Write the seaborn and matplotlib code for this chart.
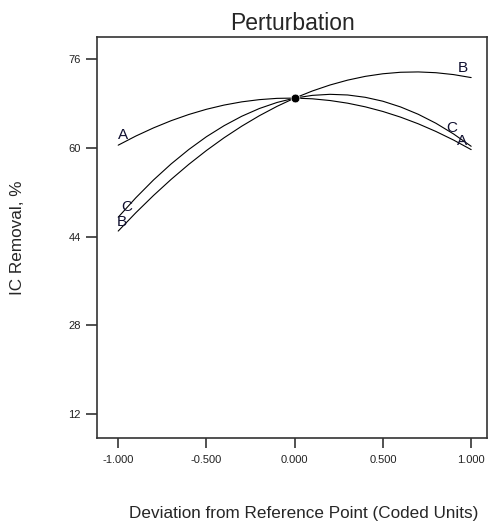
import pandas as pd
import matplotlib.pyplot as plt
import seaborn as sns

# coded deviation from the reference point
x_coded = [-1.0, -0.9, -0.8, -0.7, -0.6, -0.5, -0.4, -0.3, -0.2, -0.1, 0.0,
           0.1, 0.2, 0.3, 0.4, 0.5, 0.6, 0.7, 0.8, 0.9, 1.0]
# IC removal (%) for each factor
ic_a = [60.5, 62.15, 63.62, 64.92, 66.04, 66.98, 67.74, 68.32, 68.72, 68.95, 69.0,
        68.87, 68.56, 68.08, 67.42, 66.58, 65.56, 64.36, 62.98, 61.43, 59.7]
ic_b = [45.0, 48.31, 51.42, 54.33, 57.04, 59.54, 61.84, 63.93, 65.82, 67.51, 69.0,
        70.28, 71.36, 72.24, 72.92, 73.39, 73.66, 73.72, 73.58, 73.24, 72.7]
ic_c = [47.5, 51.01, 54.22, 57.12, 59.72, 62.03, 64.02, 65.72, 67.12, 68.21, 69.0,
        69.49, 69.68, 69.56, 69.14, 68.43, 67.40, 66.08, 64.46, 62.53, 60.3]
ref_x = [0.0]
ref_y = [69.0]
y_ticks = [12, 28, 44, 60, 76]
x_ticks = [-1.0, -0.5, 0.0, 0.5, 1.0]

df = pd.DataFrame({
    'x': x_coded * 3,
    'y': ic_a + ic_b + ic_c,
    'factor': ['A'] * len(x_coded) + ['B'] * len(x_coded) + ['C'] * len(x_coded),
})

sns.set_style('white')
plt.rcParams['font.family'] = ['Liberation Sans', 'DejaVu Sans']

fig = plt.figure(figsize=(4.9, 5.23), dpi=100)
ax = fig.add_axes([0.198, 0.163, 0.796, 0.766])

sns.lineplot(data=df, x='x', y='y', hue='factor', palette=['black'] * 3,
             linewidth=0.8, legend=False, ax=ax)
sns.scatterplot(x=ref_x, y=ref_y, color='black', s=40, zorder=5, ax=ax)

# curve labels at the ends
lab = dict(fontsize=11, color='#101030', ha='center', va='center')
ax.text(-0.97, 62.4, 'A', **lab)
ax.text(-0.95, 49.3, 'C', **lab)
ax.text(-0.98, 46.6, 'B', **lab)
ax.text(0.955, 74.5, 'B', **lab)
ax.text(0.89, 63.6, 'C', **lab)
ax.text(0.95, 61.2, 'A', **lab)

ax.set_xlim(-1.12, 1.09)
ax.set_ylim(7.7, 80)
ax.set_xticks(x_ticks)
ax.set_xticklabels([f'{v:.3f}' for v in x_ticks])
ax.set_yticks(y_ticks)
ax.tick_params(axis='both', bottom=True, left=True, labelsize=8, direction='out',
               width=1.2, color='#333333', labelcolor='#222222')
ax.tick_params(axis='x', length=7.5, pad=5)
ax.tick_params(axis='y', length=8, pad=3.5)
for s in ax.spines.values():
    s.set_color('#333333')
    s.set_linewidth(1.2)

ax.set_title('Perturbation', fontsize=16.5, pad=5)
ax.set_xlabel('Deviation from Reference Point (Coded Units)', fontsize=12.3)
ax.set_ylabel('IC Removal, %', fontsize=12.3)
ax.xaxis.set_label_coords(0.53, -0.17)
ax.yaxis.set_label_coords(-0.185, 0.5)

fig.savefig('out.png', dpi=100)
